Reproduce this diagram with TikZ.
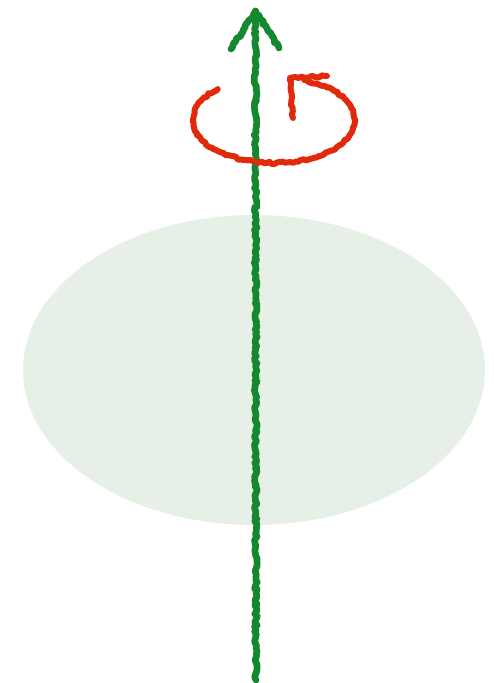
\documentclass[tikz,border=0pt]{standalone}
\usetikzlibrary{decorations.pathmorphing}
\definecolor{axisgreen}{HTML}{14882E}
\definecolor{spinred}{HTML}{E1290B}
\definecolor{bodygreen}{HTML}{E6F0E6}
\tikzstyle{body} = [
    fill=bodygreen,
    draw=none
]
\tikzstyle{axis} = [
    draw=axisgreen,
    line width=3.8pt,
    line cap=round,
    line join=round,
    decorate,
    decoration={random steps, segment length=1.5pt, amplitude=0.8pt}
]
\tikzstyle{spin} = [
    draw=spinred,
    line width=3.4pt,
    line cap=round,
    line join=round,
    decorate,
    decoration={random steps, segment length=1.5pt, amplitude=0.7pt}
]

\begin{document}
\begin{tikzpicture}

\useasboundingbox (0,0) rectangle (9.86,13.66);

\fill [body] (5.08,6.26) ellipse [x radius=4.62, y radius=3.1];

\coordinate (base) at (5.12,0.06);
\coordinate (top) at (5.11,13.44);
\coordinate (wingl) at (4.62,12.68);
\coordinate (wingr) at (5.58,12.7);

\draw [axis] (base) -- (top);
\draw [axis] (wingl) -- (top) -- (wingr);

\coordinate (spinc) at (5.48,11.26);
\coordinate (spintip) at (5.8,12.1);
\coordinate (spinwa) at (6.54,12.14);
\coordinate (spinwb) at (5.86,11.3);

\draw [spin] (spinc) ++(134:1.62 and 0.86) arc [start angle=134, end angle=428, x radius=1.62, y radius=0.86];
\draw [spin] (spinwa) -- (spintip) -- (spinwb);

\end{tikzpicture}
\end{document}
